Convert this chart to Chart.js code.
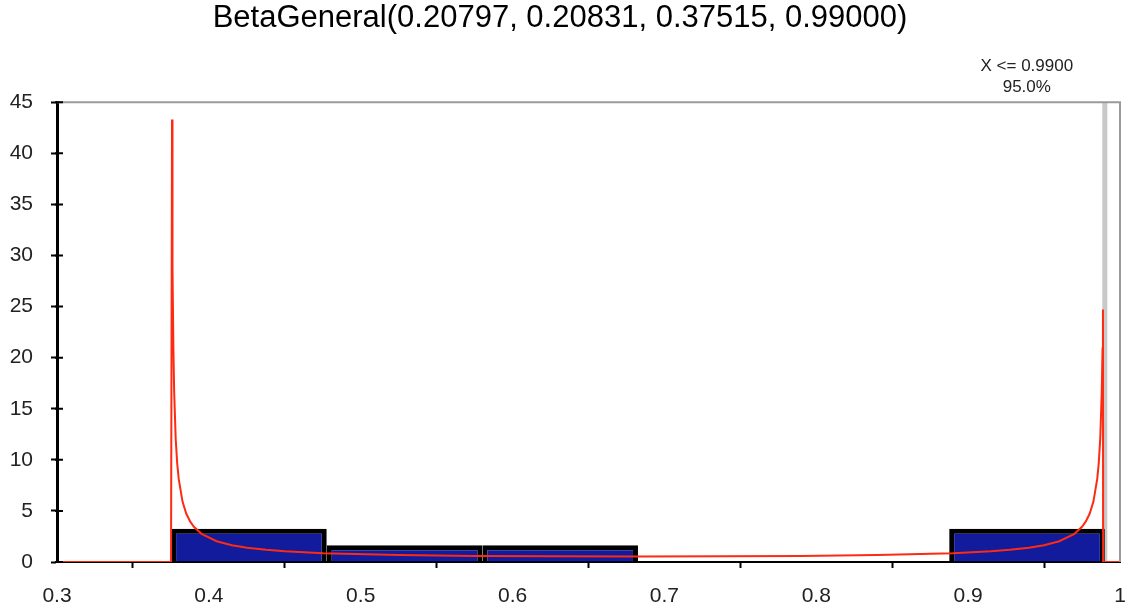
<!DOCTYPE html>
<html>
<head>
<meta charset="utf-8">
<script src="https://cdn.jsdelivr.net/npm/chart.js@4"></script>
<style>
    html, body { margin: 0; padding: 0; background: #fff; }
    #wrap { width: 1125px; height: 613px; }
</style>
</head>
<body>
<div id="wrap"><canvas id="beta-chart"></canvas></div>
<script>
// histogram bins (edges) and density heights
const binEdges = [0.37515, 0.47763, 0.58010, 0.68258, 0.78505, 0.88753, 0.99000];
const binHeights = [3.25, 1.63, 1.63, 0, 0, 3.25];

// fitted density curve
const curveX = [0.3, 0.3751, 0.37575, 0.37595, 0.37615, 0.37665, 0.37715, 0.37815, 0.37915,
    0.38015, 0.38265, 0.38515, 0.38765, 0.39015, 0.39515, 0.40515, 0.41515, 0.42515, 0.43765,
    0.45015, 0.47515, 0.52515, 0.57515, 0.62515, 0.6826,
    0.74, 0.79, 0.84, 0.89, 0.915, 0.9275, 0.94, 0.95, 0.96, 0.97, 0.975, 0.9775, 0.98,
    0.9825, 0.985, 0.986, 0.987, 0.988, 0.9885, 0.98878, 0.9889, 1.0];
const curveY = [0, 0, 43.3, 34.5, 28.9, 20.9, 16.7, 12.1, 9.66,
    8.13, 5.91, 4.72, 3.97, 3.45, 2.76, 2.03, 1.64, 1.39, 1.19,
    1.05, 0.867, 0.682, 0.594, 0.551, 0.536,
    0.551, 0.594, 0.682, 0.867, 1.05, 1.19, 1.39, 1.64, 2.03, 2.76, 3.45, 3.97, 4.72,
    5.91, 8.13, 9.66, 12.1, 16.7, 20.9, 24.7, 0, 0];

// marker line
const markerX = 0.99;
const markerLabel = ['X <= 0.9900', '95.0%'];

const xTicks = { min: 0.3, max: 1, step: 0.1 };
const yTicks = { min: 0, max: 45, step: 5 };

const fontFamily = "'Liberation Sans', Arial, Helvetica, sans-serif";

const binWidth = binEdges[1] - binEdges[0];
const barData = binHeights.map((h, i) => ({ x: (binEdges[i] + binEdges[i + 1]) / 2, y: h }));
const curveData = curveX.map((x, i) => ({ x: x, y: curveY[i] }));

// gray frame on top / right, y tick marks across the axis, marker caption
const framePlugin = {
    id: 'frame',
    afterDatasetsDraw (chart) {
        const { ctx, chartArea } = chart;
        const yScale = chart.scales.y;
        ctx.save();
        ctx.strokeStyle = '#9a9a9a';
        ctx.lineWidth = 2;
        ctx.beginPath();
        ctx.moveTo(chartArea.left, chartArea.top);
        ctx.lineTo(chartArea.right, chartArea.top);
        ctx.lineTo(chartArea.right, chartArea.bottom);
        ctx.stroke();

        ctx.strokeStyle = '#000';
        ctx.lineWidth = 2;
        ctx.beginPath();
        yScale.ticks.forEach(t => {
            const py = yScale.getPixelForValue(t.value);
            ctx.moveTo(chartArea.left - 2, py);
            ctx.lineTo(chartArea.left + 6, py);
        });
        ctx.stroke();

        const px = chart.scales.x.getPixelForValue(markerX);
        ctx.fillStyle = '#222';
        ctx.font = '17px ' + fontFamily;
        ctx.textAlign = 'center';
        ctx.textBaseline = 'middle';
        ctx.fillText(markerLabel[0], px - 78, chartArea.top - 36);
        ctx.fillText(markerLabel[1], px - 78, chartArea.top - 15);
        ctx.restore();
    }
};

new Chart(
    document.getElementById('beta-chart'),
    {
        data: {
            datasets: [
                {
                    type: 'line',
                    label: 'Density',
                    data: curveData,
                    borderColor: '#ff2a12',
                    borderWidth: 2,
                    pointRadius: 0,
                    tension: 0,
                    order: 1
                },
                {
                    type: 'bar',
                    label: 'Histogram',
                    data: barData,
                    backgroundColor: '#111b9c',
                    borderColor: '#000',
                    borderWidth: 5,
                    borderSkipped: 'bottom',
                    barPercentage: binWidth / xTicks.step,
                    categoryPercentage: 1,
                    order: 2
                },
                {
                    type: 'line',
                    label: 'Marker',
                    data: [{ x: markerX, y: yTicks.min }, { x: markerX, y: yTicks.max }],
                    borderColor: '#c8c8c8',
                    borderWidth: 5,
                    pointRadius: 0,
                    order: 3
                }
            ]
        },
        options: {
            responsive: true,
            maintainAspectRatio: false,
            animation: false,
            layout: {
                padding: { right: 5 }
            },
            plugins: {
                legend: {
                    display: false
                },
                tooltip: {
                    enabled: false
                },
                title: {
                    display: true,
                    text: 'BetaGeneral(0.20797, 0.20831, 0.37515, 0.99000)',
                    color: '#000',
                    font: { family: fontFamily, size: 31, weight: 'normal' },
                    padding: { top: 0, bottom: 65 }
                }
            },
            scales: {
                x: {
                    type: 'linear',
                    min: xTicks.min,
                    max: xTicks.max,
                    offset: false,
                    afterFit: scale => {
                        scale.height = 51;
                        scale.paddingRight = 0;
                    },
                    border: { display: true, color: '#000', width: 2 },
                    grid: { drawOnChartArea: false, drawTicks: true, tickLength: 6, color: '#000', tickWidth: 2 },
                    ticks: {
                        stepSize: xTicks.step,
                        padding: 16,
                        color: '#222',
                        maxRotation: 0,
                        font: { family: fontFamily, size: 21 },
                        callback: v => String(Number(v.toFixed(1)))
                    }
                },
                y: {
                    min: yTicks.min,
                    max: yTicks.max,
                    afterFit: scale => { scale.width = 57; },
                    border: { display: true, color: '#000', width: 3 },
                    grid: { drawOnChartArea: false, drawTicks: true, tickLength: 6, color: '#000', tickWidth: 2 },
                    ticks: {
                        stepSize: yTicks.step,
                        padding: 18,
                        color: '#222',
                        font: { family: fontFamily, size: 21 }
                    }
                }
            }
        },
        plugins: [framePlugin]
    }
);
</script>
</body>
</html>
